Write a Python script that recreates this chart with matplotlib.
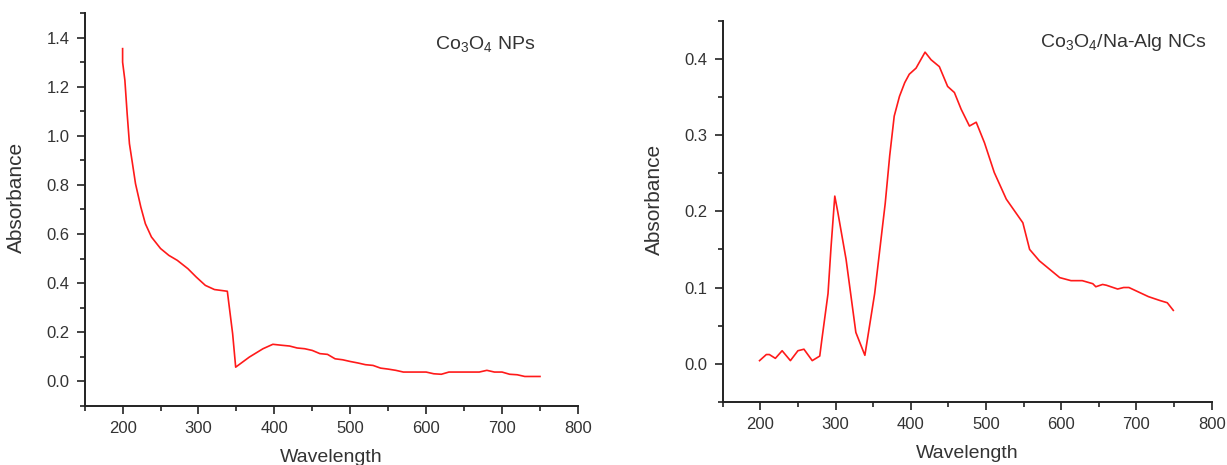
import matplotlib
matplotlib.use("Agg")
import matplotlib.pyplot as plt
from matplotlib.ticker import MultipleLocator

plt.rcParams['font.family'] = ['Liberation Sans', 'DejaVu Sans']
plt.rcParams['mathtext.fontset'] = 'custom'
plt.rcParams['mathtext.rm'] = 'Liberation Sans'

# Co3O4 nanoparticles
np_wl = [200, 200, 203, 206, 209, 213, 217, 224, 230, 238, 250, 261, 272, 286, 297,
         309, 321, 338, 345, 349, 367, 385, 398, 410, 420, 430, 440, 450, 460, 470,
         480, 490, 500, 510, 520, 530, 540, 550, 560, 570, 580, 590, 600, 610, 620,
         630, 640, 650, 660, 670, 680, 690, 700, 710, 720, 730, 740, 750]
np_abs = [1.355, 1.30, 1.226, 1.09, 0.968, 0.887, 0.805, 0.710, 0.642, 0.588, 0.541,
          0.513, 0.493, 0.459, 0.425, 0.391, 0.374, 0.367, 0.194, 0.058, 0.099, 0.133,
          0.151, 0.147, 0.144, 0.136, 0.133, 0.126, 0.113, 0.110, 0.092, 0.088, 0.081,
          0.075, 0.068, 0.065, 0.054, 0.050, 0.045, 0.038, 0.038, 0.038, 0.038, 0.031,
          0.029, 0.038, 0.038, 0.038, 0.038, 0.038, 0.045, 0.038, 0.038, 0.029, 0.027,
          0.020, 0.020, 0.020]

# Co3O4 / sodium alginate nanocomposite
nc_wl = [199, 208, 212, 220, 229, 240, 250, 258, 269, 279, 282, 290, 294, 299, 303,
         314, 327, 339, 352, 363, 366, 372, 378, 385, 392, 398, 407, 419, 427, 438,
         449, 458, 467, 478, 487, 498, 511, 527, 549, 558, 571, 598, 613, 628, 642,
         646, 655, 660, 675, 683, 690, 703, 716, 731, 741, 749]
nc_abs = [0.004, 0.012, 0.012, 0.007, 0.017, 0.004, 0.017, 0.019, 0.004, 0.010, 0.033,
          0.092, 0.153, 0.220, 0.199, 0.137, 0.041, 0.011, 0.092, 0.185, 0.210, 0.273,
          0.325, 0.351, 0.369, 0.380, 0.388, 0.409, 0.399, 0.390, 0.364, 0.356, 0.334,
          0.312, 0.317, 0.290, 0.251, 0.216, 0.185, 0.150, 0.135, 0.113, 0.109, 0.109,
          0.105, 0.101, 0.104, 0.103, 0.098, 0.100, 0.100, 0.094, 0.088, 0.083, 0.080,
          0.070]

spine_col = '#222222'
text_col = '#333333'

fig = plt.figure(figsize=(12.27, 4.65), dpi=100)
ax1 = fig.add_axes([0.069, 0.127, 0.402, 0.845])
ax2 = fig.add_axes([0.589, 0.136, 0.3985, 0.819])


def style_axes(ax, ymin, ymax, ymajor, yminor):
    ax.set_xlim(150, 800)
    ax.set_ylim(ymin, ymax)
    ax.xaxis.set_major_locator(MultipleLocator(100))
    ax.xaxis.set_minor_locator(MultipleLocator(50))
    ax.yaxis.set_major_locator(MultipleLocator(ymajor))
    ax.yaxis.set_minor_locator(MultipleLocator(yminor))
    ax.yaxis.set_major_formatter(plt.FormatStrFormatter('%.1f'))
    for side in ('top', 'right'):
        ax.spines[side].set_visible(False)
    for side in ('left', 'bottom'):
        ax.spines[side].set_color(spine_col)
        ax.spines[side].set_linewidth(1.4)
    ax.tick_params(which='major', direction='out', length=6, width=1.2,
                   color=spine_col, labelsize=12, labelcolor=text_col, pad=5)
    ax.tick_params(which='minor', direction='out', length=3.5, width=1.2,
                   color=spine_col)
    ax.set_xlabel('Wavelength', fontsize=14, color=text_col, labelpad=9)
    ax.set_ylabel('Absorbance', fontsize=15, color=text_col)
    ax.yaxis.set_label_coords(-0.12, 0.531)


ax1.plot(np_wl, np_abs, color='#ff1a1a', lw=1.2)
style_axes(ax1, -0.1, 1.5, 0.2, 0.1)
ax1.text(0.71, 0.92, r'Co$_\mathregular{3}$O$_\mathregular{4}$ NPs',
         transform=ax1.transAxes, fontsize=14, color=text_col, va='center')

ax2.plot(nc_wl, nc_abs, color='#ff1a1a', lw=1.2)
style_axes(ax2, -0.05, 0.45, 0.1, 0.05)
ax2.text(0.648, 0.944, r'Co$_\mathregular{3}$O$_\mathregular{4}$/Na-Alg NCs',
         transform=ax2.transAxes, fontsize=14, color=text_col, va='center')

fig.savefig('out.png', dpi=100)
